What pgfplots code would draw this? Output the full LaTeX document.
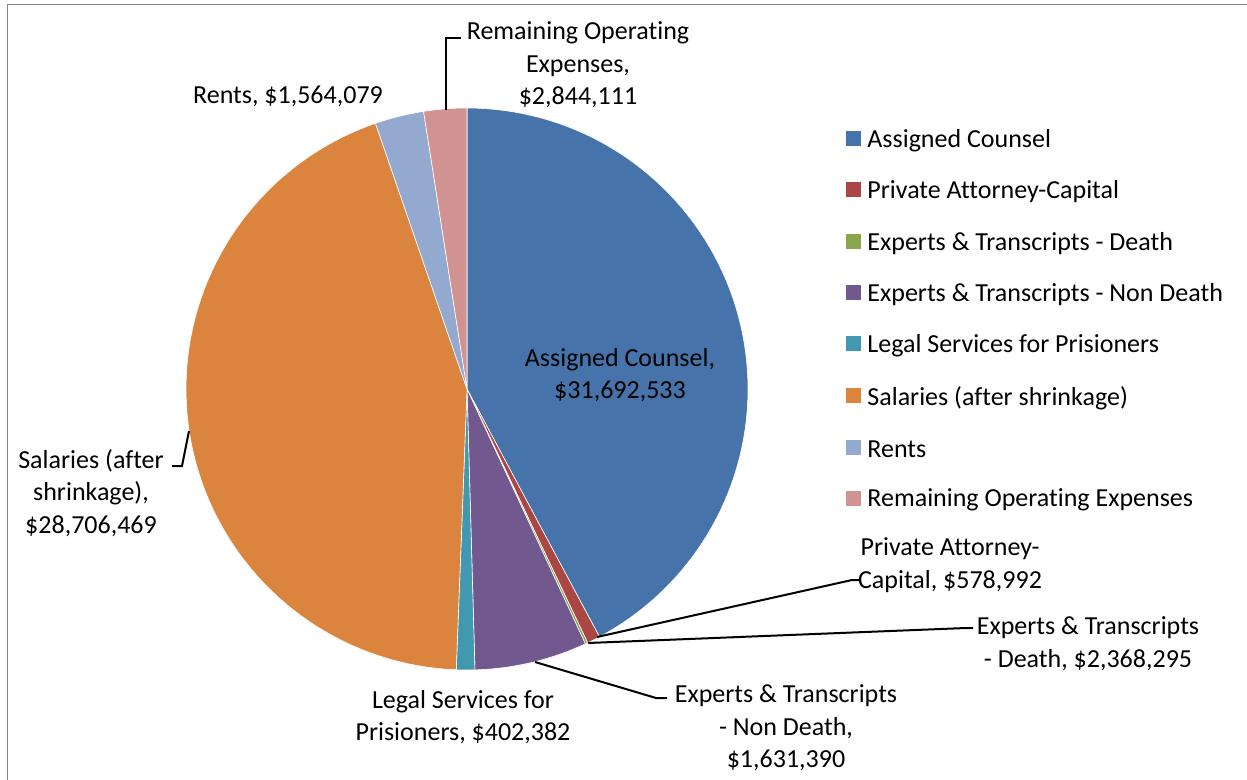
\documentclass[border=0pt]{standalone}
\usepackage{pgfplots}
\pgfplotsset{compat=1.18}
\usepackage{pgfplotstable}
\usepackage{fontspec}
\setmainfont{Carlito}[Ligatures=NoCommon]

% Office 2007 chart palette
\definecolor{slice0}{HTML}{4674AA}
\definecolor{slice1}{HTML}{AA4643}
\definecolor{slice2}{HTML}{89A54E}
\definecolor{slice3}{HTML}{71588F}
\definecolor{slice4}{HTML}{4198AF}
\definecolor{slice5}{HTML}{DB843D}
\definecolor{slice6}{HTML}{93A9CF}
\definecolor{slice7}{HTML}{D19392}

% share of the pie (percent), as drawn, clockwise from 12 o'clock
\pgfplotstableread{
share
42.19
0.75
0.14
6.47
1.06
44.11
2.81
2.47
}\piedata

\newcommand{\legitem}[3]{%
    \fill[#1] (axis cs:846,#2-7.5) rectangle (axis cs:861,#2+7.5);
    \node[anchor=west, inner sep=0pt] at (axis cs:867,#2+2) {#3};
}

\begin{document}
\fontsize{13}{16.3}\selectfont
\begin{tikzpicture}[font=\fontsize{13}{16.3}\selectfont]
\begin{axis}[
    name=ax,
    scale only axis,
    width=623.5pt, height=390pt,
    xmin=0, xmax=1247, ymin=0, ymax=780,
    y dir=reverse,
    hide axis,
    clip=false,
]
% chart frame
\draw[gray!95, line width=0.8pt] (axis cs:7.5,780) -- (axis cs:7.5,4.5) -- (axis cs:1247,4.5);

\def\a{0}
\pgfplotsforeachungrouped \i in {0,...,7}{
    \pgfplotstablegetelem{\i}{share}\of\piedata
    \pgfmathsetmacro\b{\a+3.6*\pgfplotsretval}
    \edef\cmd{\noexpand\addplot[fill=slice\i, draw=white, line width=0.3pt, domain=\a:\b, samples=80]
        ({467+281*sin(x)},{389-281*cos(x)}) -- (axis cs:467,389) -- cycle;}
    \cmd
    \global\let\a\b
}

% data labels
\node[align=center] at (axis cs:578,65) {Remaining Operating\\Expenses,\\\$2,844,111};
\node at (axis cs:288,96) {Rents, \$1,564,079};
\node[align=center] at (axis cs:620,375) {Assigned Counsel,\\\$31,692,533};
\node[align=center] at (axis cs:950,565) {Private Attorney-\\Capital, \$578,992};
\node[align=center] at (axis cs:1088,644) {Experts \& Transcripts\\- Death, \$2,368,295};
\node[align=center] at (axis cs:786,728) {Experts \& Transcripts\\- Non Death,\\\$1,631,390};
\node[align=center] at (axis cs:463,717) {Legal Services for\\Prisioners, \$402,382};
\node[align=center] at (axis cs:91,493) {Salaries (after\\shrinkage),\\\$28,706,469};

% leader lines
\begin{scope}[black, line width=1pt]
\draw (axis cs:446,110) -- (axis cs:446,38) -- (axis cs:461,38);
\draw (axis cs:597,637) -- (axis cs:852,580) -- (axis cs:860,580);
\draw (axis cs:588,643) -- (axis cs:966,628) -- (axis cs:973,628);
\draw (axis cs:535,662) -- (axis cs:656,698) -- (axis cs:667,698);
\draw (axis cs:172,466) -- (axis cs:182,466) -- (axis cs:189,431);
\end{scope}

% legend
\legitem{slice0}{139}{Assigned Counsel}
\legitem{slice1}{190}{Private Attorney-Capital}
\legitem{slice2}{242}{Experts \& Transcripts - Death}
\legitem{slice3}{293}{Experts \& Transcripts - Non Death}
\legitem{slice4}{344}{Legal Services for Prisioners}
\legitem{slice5}{396}{Salaries (after shrinkage)}
\legitem{slice6}{447}{Rents}
\legitem{slice7}{498}{Remaining Operating Expenses}
\end{axis}
\pgfresetboundingbox
\path[use as bounding box] (ax.south west) rectangle (ax.north east);
\end{tikzpicture}
\end{document}
